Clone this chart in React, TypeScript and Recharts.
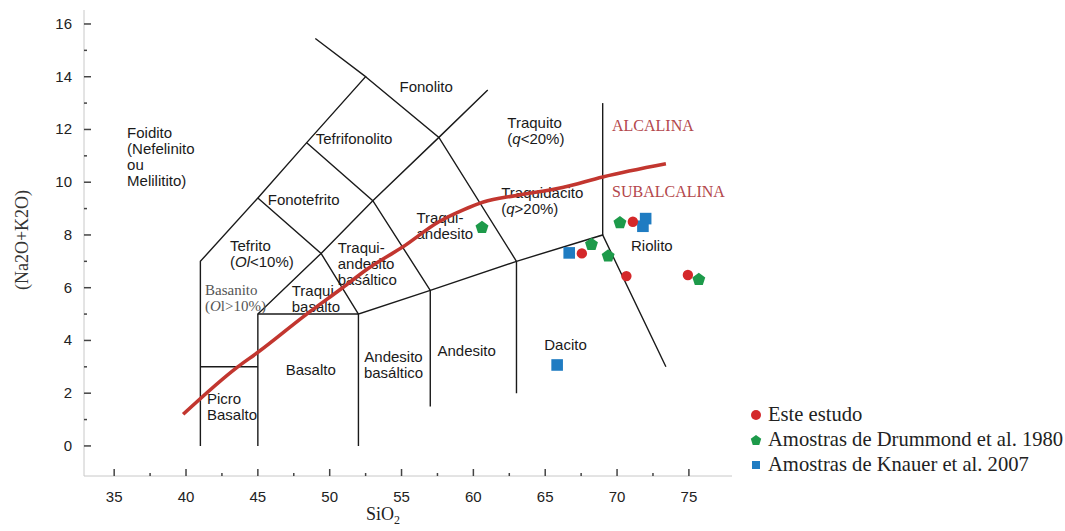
import React from 'react'
import { ScatterChart, Scatter, XAxis, YAxis, ReferenceArea, Legend } from 'recharts'

// axis ticks (majors get a label, minors only a short mark)
const xTicks = [35, 37.5, 40, 42.5, 45, 47.5, 50, 52.5, 55, 57.5, 60, 62.5, 65, 67.5, 70, 72.5, 75]
const yTicks = [0, 1, 2, 3, 4, 5, 6, 7, 8, 9, 10, 11, 12, 13, 14, 15, 16]

// TAS field boundaries [SiO2, Na2O+K2O]
const lineFoidito = [[41, 0], [41, 7], [45, 9.4], [48.4, 11.5], [52.5, 14], [49, 15.45]]
const lineBasalto = [[45, 0], [45, 5], [49.4, 7.3], [53, 9.3], [57.6, 11.7], [61, 13.5]]
const lineSubalc = [[52, 0], [52, 5], [57, 5.9], [63, 7], [69, 8], [73.4, 3.0]]
const lineTefrito = [[45, 9.4], [49.4, 7.3], [52, 5]]
const lineFonotefrito = [[48.4, 11.5], [53, 9.3], [57, 5.9], [57, 1.5]]
const lineTefrifono = [[52.5, 14], [57.6, 11.7], [63, 7], [63, 2]]
const lineTraquito = [[69, 8], [69, 13]]
const linePicro = [[41, 3], [45, 3]]
const lineBasaltoTop = [[45, 5], [52, 5]]

// Irvine & Baragar alkaline / subalkaline divide
const divideSiO2 = [39.8, 43.6, 45, 48.4, 50.9, 52.6, 55.1, 57.6, 59.3, 60.7, 63, 66.2, 69, 73.4]
const divideAlk = [1.2, 3.0, 3.55, 5.0, 6.0, 6.7, 7.55, 8.5, 8.95, 9.25, 9.5, 9.8, 10.2, 10.7]

// samples
const esteSiO2 = [71.1, 67.55, 70.65, 74.93]
const esteAlk = [8.5, 7.3, 6.44, 6.48]
const drummondSiO2 = [60.6, 70.2, 68.22, 69.38, 75.69]
const drummondAlk = [8.28, 8.46, 7.64, 7.2, 6.31]
const knauerSiO2 = [66.67, 71.99, 71.8, 65.83]
const knauerAlk = [7.32, 8.62, 8.33, 3.07]

// field names, *text* = italic
const fieldLabels = [
  { x: 35.9, y: 11.86, lines: ['Foidito', '(Nefelinito', 'ou', 'Melilitito)'] },
  { x: 49.03, y: 11.63, lines: ['Tefrifonolito'] },
  { x: 45.69, y: 9.32, lines: ['Fonotefrito'] },
  { x: 43.06, y: 7.58, lines: ['Tefrito', '(*Ol*<10%)'] },
  { x: 41.32, y: 5.91, lines: ['Basanito', '(*O*l>10%)'], kind: 'serif' },
  { x: 47.36, y: 5.87, lines: ['Traqui', 'basalto'] },
  { x: 41.46, y: 1.78, lines: ['Picro', 'Basalto'] },
  { x: 46.94, y: 2.88, lines: ['Basalto'] },
  { x: 50.56, y: 7.5, lines: ['Traqui-', 'andesito', 'basáltico'] },
  { x: 56.04, y: 8.64, lines: ['Traqui-', 'andesito'] },
  { x: 54.44, y: 3.37, lines: ['Andesito', 'basáltico'], anchor: 'middle' },
  { x: 57.5, y: 3.6, lines: ['Andesito'] },
  { x: 64.93, y: 3.83, lines: ['Dacito'] },
  { x: 70.97, y: 7.58, lines: ['Riolito'] },
  { x: 62.36, y: 12.23, lines: ['Traquito', '(*q*<20%)'] },
  { x: 61.94, y: 9.58, lines: ['Traquidacito', '(*q*>20%)'] },
  { x: 54.86, y: 13.6, lines: ['Fonolito'] },
  { x: 69.65, y: 12.12, lines: ['ALCALINA'], kind: 'series' },
  { x: 69.65, y: 9.62, lines: ['SUBALCALINA'], kind: 'series' },
]

const toPoints = (pairs: number[][]) => pairs.map(([x, y]) => ({ x, y }))
const zip = (xs: number[], ys: number[]) => xs.map((x, i) => ({ x, y: ys[i] }))

const boundaries = [lineFoidito, lineBasalto, lineSubalc, lineTefrito, lineFonotefrito,
  lineTefrifono, lineTraquito, linePicro, lineBasaltoTop]

const SANS = '"Liberation Sans", Arial, sans-serif'
const SERIF = '"Liberation Serif", "Times New Roman", serif'
const RED = '#d4282a'
const GREEN = '#1d9a4a'
const BLUE = '#1f7cc2'

const blank = () => <g />

const pentagon = (cx: number, cy: number, r: number) =>
  [0, 1, 2, 3, 4].map(i => {
    const a = (-90 + i * 72) * Math.PI / 180
    return `${cx + r * Math.cos(a)},${cy + r * Math.sin(a)}`
  }).join(' ')

const CircleMark = (p: any) => <circle cx={p.cx} cy={p.cy} r={5.2} fill={RED} />
const PentMark = (p: any) => <polygon points={pentagon(p.cx, p.cy, 6.8)} fill={GREEN} />
const SquareMark = (p: any) => <rect x={p.cx - 5.8} y={p.cy - 5.8} width={11.6} height={11.6} fill={BLUE} />

const richLine = (s: string) =>
  s.split('*').map((part, i) => (
    <tspan key={i} fontStyle={i % 2 === 1 ? 'italic' : 'normal'}>{part}</tspan>
  ))

const FieldLabel = (p: any) => {
  const d = p.payload
  const serif = d.kind === 'serif' || d.kind === 'series'
  const fill = d.kind === 'series' ? '#b3474c' : d.kind === 'serif' ? '#555' : '#1a1a1a'
  return (
    <text
      x={p.cx}
      y={p.cy}
      textAnchor={d.anchor || 'start'}
      fontFamily={serif ? SERIF : SANS}
      fontSize={d.kind === 'series' ? 16 : 15}
      fill={fill}
    >
      {d.lines.map((ln: string, i: number) => (
        <tspan key={i} x={p.cx} dy={i === 0 ? 5 : 16}>{richLine(ln)}</tspan>
      ))}
    </text>
  )
}

const XTick = ({ x, y, payload }: any) => {
  const major = payload.value % 5 === 0
  return (
    <g>
      <line x1={x} x2={x} y1={y} y2={y - (major ? 7 : 3)} stroke="#444" strokeWidth={1.5} />
      {major && (
        <text x={x} y={y + 26} textAnchor="middle" fontSize={15} fontFamily={SANS} fill="#222">
          {payload.value}
        </text>
      )}
    </g>
  )
}

const YTick = ({ x, y, payload }: any) => {
  const major = payload.value % 2 === 0
  return (
    <g>
      <line x1={x} x2={x + (major ? 7 : 3)} y1={y} y2={y} stroke="#444" strokeWidth={1.5} />
      {major && (
        <text x={x - 12} y={y + 5} textAnchor="end" fontSize={15} fontFamily={SANS} fill="#222">
          {payload.value}
        </text>
      )}
    </g>
  )
}

const legendIcon = (name: string) => {
  if (name === 'Este estudo') return <circle cx={7} cy={8} r={5} fill={RED} />
  if (name.includes('Drummond')) return <polygon points={pentagon(7, 8.5, 5.5)} fill={GREEN} />
  return <rect x={3} y={4} width={8} height={8} fill={BLUE} />
}

const SampleLegend = ({ payload }: any) => (
  <div style={{ fontFamily: SERIF, fontSize: 20.6, color: '#222' }}>
    {(payload || []).filter((e: any) => e.type !== 'none').map((e: any) => (
      <div key={e.value} style={{ display: 'flex', alignItems: 'center', height: 25, whiteSpace: 'nowrap' }}>
        <svg width={16} height={16} style={{ marginRight: 3 }}>{legendIcon(e.value)}</svg>
        <span>{e.value}</span>
      </div>
    ))}
  </div>
)

export default function App() {
  return (
    <div style={{ width: 1065, height: 531, position: 'relative' }}>
      <style>{'html, body { margin: 0; overflow: hidden; }'}</style>
      <ScatterChart width={1065} height={531} margin={{ top: 10, right: 333, bottom: 15, left: 24 }}>
        <XAxis
          dataKey="x"
          type="number"
          domain={[32.9, 78]}
          allowDataOverflow
          ticks={xTicks}
          interval={0}
          tick={XTick}
          tickLine={false}
          tickSize={0}
          tickMargin={0}
          height={40}
          axisLine={{ stroke: '#c8c8c8' }}
          label={{
            content: ({ viewBox }: any) => (
              <text x={viewBox.x + 299} y={viewBox.y + 44} textAnchor="middle" fontFamily={SERIF} fontSize={18} fill="#222">
                SiO<tspan fontSize={12} dy={4}>2</tspan>
              </text>
            ),
          }}
        />
        <YAxis
          dataKey="y"
          type="number"
          domain={[-1.14, 16.53]}
          allowDataOverflow
          ticks={yTicks}
          interval={0}
          tick={YTick}
          tickLine={false}
          tickSize={0}
          tickMargin={0}
          width={60}
          axisLine={{ stroke: '#c8c8c8' }}
          label={{
            content: ({ viewBox }: any) => (
              <text
                x={viewBox.x - 2}
                y={viewBox.y + 230}
                transform={`rotate(-90, ${viewBox.x - 2}, ${viewBox.y + 230})`}
                textAnchor="middle"
                dominantBaseline="central"
                fontFamily={SERIF}
                fontSize={18}
                fill="#333"
              >
                (Na2O+K2O)
              </text>
            ),
          }}
        />
        <ReferenceArea fill="none" stroke="#c8c8c8" strokeWidth={1} ifOverflow="visible" />
        {boundaries.map((b, i) => (
          <Scatter
            key={`b${i}`}
            name={`b${i}`}
            data={toPoints(b)}
            line={{ stroke: '#1a1a1a', strokeWidth: 1.4 }}
            lineJointType="linear"
            shape={blank}
            legendType="none"
            isAnimationActive={false}
          />
        ))}
        <Scatter name="labels" data={fieldLabels} shape={FieldLabel} legendType="none" isAnimationActive={false} />
        <Scatter
          name="divide"
          data={zip(divideSiO2, divideAlk)}
          line={{ stroke: '#c2362f', strokeWidth: 3.6 }}
          lineJointType="monotoneX"
          shape={blank}
          legendType="none"
          isAnimationActive={false}
        />
        <Scatter name="Amostras de Knauer et al. 2007" data={zip(knauerSiO2, knauerAlk)} fill={BLUE} shape={SquareMark} legendType="square" isAnimationActive={false} />
        <Scatter name="Amostras de Drummond et al. 1980" data={zip(drummondSiO2, drummondAlk)} fill={GREEN} shape={PentMark} legendType="circle" isAnimationActive={false} />
        <Scatter name="Este estudo" data={zip(esteSiO2, esteAlk)} fill={RED} shape={CircleMark} legendType="circle" isAnimationActive={false} />
        <Legend
          layout="vertical"
          align="center"
          verticalAlign="middle"
          width={316}
          content={(props: any) => {
            const order = ['Este estudo', 'Amostras de Drummond et al. 1980', 'Amostras de Knauer et al. 2007']
            const items = order.map(n => (props.payload || []).find((e: any) => e.value === n)).filter(Boolean)
            return <SampleLegend payload={items} />
          }}
          wrapperStyle={{ left: 749, top: 402, width: 316 }}
        />
      </ScatterChart>
    </div>
  )
}
